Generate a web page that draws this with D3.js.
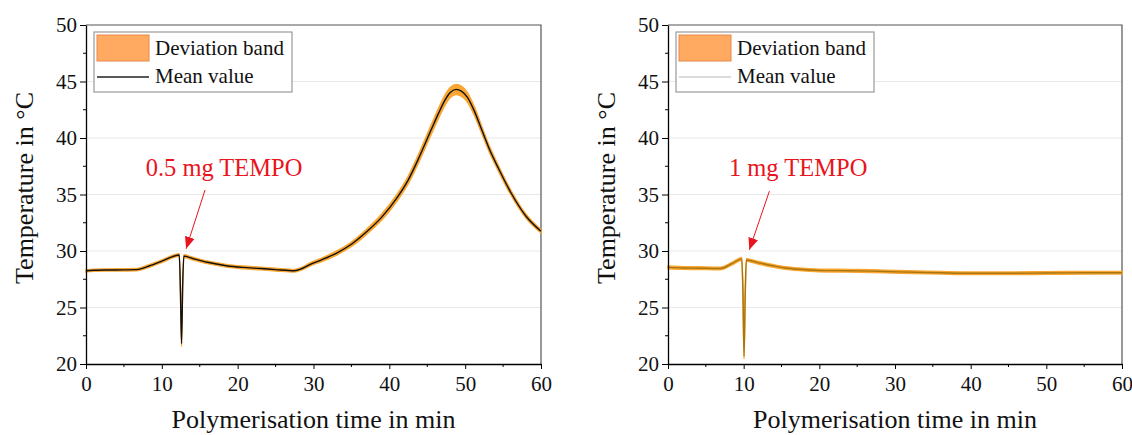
<!DOCTYPE html>
<html>
<head>
<meta charset="utf-8">
<script src="https://cdn.jsdelivr.net/npm/d3@7"></script>
<style>
  body { margin: 0; background: #fff; }
  svg text { font-family: "Liberation Serif", "Times New Roman", serif; }
</style>
</head>
<body>
<svg id="chart" width="1132" height="435"></svg>
<script>
// left panel: 0.5 mg TEMPO
const timeLeft = [0, 1, 3, 5, 6.7, 8, 10, 12.3, 12.45, 12.6, 12.75, 12.9, 14, 16, 18.5, 20.7, 23, 25, 27.5, 28.5, 29.5, 31, 33, 35, 37, 39, 41, 42.5, 44, 45.5, 46.5, 47.3, 48, 48.8, 49.5, 50.3, 51.2, 52.2, 53.2, 54.4, 56, 58, 60]
const meanLeft = [28.25, 28.3, 28.32, 28.33, 28.35, 28.6, 29.1, 29.65, 26.5, 21.8, 27.0, 29.55, 29.35, 29.0, 28.7, 28.55, 28.45, 28.35, 28.25, 28.45, 28.8, 29.2, 29.8, 30.6, 31.7, 33.0, 34.7, 36.3, 38.4, 40.7, 42.2, 43.3, 44.0, 44.3, 44.15, 43.6, 42.4, 40.7, 39.0, 37.3, 35.2, 33.1, 31.75]
const devLeft = [0.1, 0.1, 0.1, 0.1, 0.1, 0.12, 0.12, 0.12, 0.2, 0.25, 0.2, 0.12, 0.12, 0.12, 0.12, 0.12, 0.12, 0.12, 0.12, 0.12, 0.14, 0.15, 0.18, 0.2, 0.23, 0.27, 0.3, 0.34, 0.38, 0.42, 0.45, 0.45, 0.45, 0.45, 0.45, 0.42, 0.38, 0.32, 0.28, 0.25, 0.22, 0.18, 0.15]

// right panel: 1 mg TEMPO
const timeRight = [0, 2, 4, 6.9, 8.5, 9.75, 9.9, 10.05, 10.2, 10.35, 12, 13.8, 15.5, 17.3, 20, 24, 27, 30.5, 36, 39.4, 45, 50, 55, 60]
const meanRight = [28.55, 28.5, 28.48, 28.45, 28.9, 29.3, 26.5, 20.7, 26.0, 29.2, 28.95, 28.7, 28.5, 28.38, 28.28, 28.25, 28.22, 28.15, 28.08, 28.03, 28.03, 28.05, 28.07, 28.08]
const devRight = [0.12, 0.12, 0.12, 0.12, 0.12, 0.12, 0.2, 0.25, 0.2, 0.12, 0.12, 0.12, 0.12, 0.12, 0.12, 0.12, 0.12, 0.12, 0.12, 0.12, 0.12, 0.12, 0.12, 0.12]

const xTicks = [0, 10, 20, 30, 40, 50, 60]
const xMinor = [5, 15, 25, 35, 45, 55]
const yTicks = [20, 25, 30, 35, 40, 45, 50]
const yMinor = [22.5, 27.5, 32.5, 37.5, 42.5, 47.5]
const gridValues = [25, 30, 35, 40, 45]
const legendLabels = ["Deviation band", "Mean value"]
const xTitle = "Polymerisation time in min"
const yTitle = "Temperature in °C"

// annotation: label, text anchor [t, temp], arrow start, arrow end
const annotLeft = {label: "0.5 mg TEMPO", text: [18.2, 36.6], from: [15.7, 35.4], to: [13.2, 30.2]}
const annotRight = {label: "1 mg TEMPO", text: [17.2, 36.6], from: [13.4, 35.3], to: [10.75, 30.1]}

const svg = d3.select("#chart")

const defs = svg.append("defs")
defs.append("marker")
    .attr("id", "arrowHead")
    .attr("viewBox", "0 0 12 10")
    .attr("refX", 12).attr("refY", 5)
    .attr("markerWidth", 12).attr("markerHeight", 10)
    .attr("markerUnits", "userSpaceOnUse")
    .attr("orient", "auto")
    .append("path")
    .attr("d", "M0,0L12,5L0,10Z")
    .attr("fill", "#e8141e")

function drawPanel(opts) {
    const left = opts.left, right = opts.right, top = 25, bottom = 364
    const g = svg.append("g")

    let scale_x = d3.scaleLinear().domain([0, 60]).range([left, right])
    let scale_y = d3.scaleLinear().domain([20, 50]).range([bottom, top])

    // grid lines
    g.selectAll(".grid").data(gridValues).enter().append("line")
        .attr("x1", left).attr("x2", right)
        .attr("y1", d => scale_y(d)).attr("y2", d => scale_y(d))
        .attr("stroke", "#e9e9e9")
        .attr("stroke-width", 1.2)

    // frame (top, right)
    g.append("path")
        .attr("d", `M${left},${top}H${right}V${bottom}`)
        .attr("fill", "none")
        .attr("stroke", "#555")
        .attr("stroke-width", 1.2)

    const rows = opts.time.map((t, i) => ({t: t, m: opts.mean[i], d: opts.dev[i]}))

    let band = d3.area()
        .curve(d3.curveMonotoneX)
        .x(d => scale_x(d.t))
        .y0(d => scale_y(d.m - d.d))
        .y1(d => scale_y(d.m + d.d))
    g.append("path")
        .attr("d", band(rows))
        .attr("fill", "#f9a632")
        .attr("stroke", "#f9a632")
        .attr("stroke-width", 1.4)

    let linePath = d3.line()
        .curve(d3.curveMonotoneX)
        .x(d => scale_x(d.t))
        .y(d => scale_y(d.m))
    g.append("path")
        .attr("d", linePath(rows))
        .attr("fill", "none")
        .attr("stroke", opts.lineColor)
        .attr("stroke-width", 1.4)

    // axes
    let xAxis = d3.axisBottom(scale_x).tickValues(xTicks).tickSize(5).tickSizeOuter(0).tickPadding(4)
    let gx = g.append("g").attr("transform", `translate(0,${bottom})`).call(xAxis)
    gx.selectAll(".minor").data(xMinor).enter().append("line")
        .attr("class", "minor")
        .attr("x1", d => scale_x(d)).attr("x2", d => scale_x(d))
        .attr("y1", 0).attr("y2", 3)
        .attr("stroke", "#000")
    let yAxis = d3.axisLeft(scale_y).tickValues(yTicks).tickSize(6).tickSizeOuter(0).tickPadding(3)
    let gy = g.append("g").attr("transform", `translate(${left},0)`).call(yAxis)
    gy.selectAll(".minor").data(yMinor).enter().append("line")
        .attr("class", "minor")
        .attr("x1", 0).attr("x2", -3)
        .attr("y1", d => scale_y(d)).attr("y2", d => scale_y(d))
        .attr("stroke", "#000")
    g.selectAll(".domain").attr("stroke", "#000").attr("stroke-width", 1.3)
    g.selectAll(".tick line").attr("stroke", "#000")
    g.selectAll(".tick text")
        .attr("fill", "#111")
        .style("font-size", "21px")
        .style("font-family", '"Liberation Serif", serif')
    gx.selectAll(".tick text").attr("dy", "0.85em")

    // axis titles
    g.append("text")
        .attr("x", (left + right) / 2).attr("y", 428)
        .attr("text-anchor", "middle")
        .style("font-size", "26px")
        .attr("fill", "#111")
        .text(xTitle)
    g.append("text")
        .attr("transform", `translate(${left - 53},188) rotate(-90)`)
        .attr("text-anchor", "middle")
        .style("font-size", "26px")
        .attr("fill", "#111")
        .text(yTitle)

    // legend
    const lx = left + 8, ly = 32
    g.append("rect")
        .attr("x", lx).attr("y", ly)
        .attr("width", 198).attr("height", 60)
        .attr("fill", "#fff")
        .attr("stroke", "#9a9a9a")
        .attr("stroke-width", 1.2)
    g.append("rect")
        .attr("x", lx + 3).attr("y", ly + 3)
        .attr("width", 52).attr("height", 26)
        .attr("fill", "#ffaa60")
        .attr("stroke", "#e5894a")
    g.append("line")
        .attr("x1", lx + 3).attr("x2", lx + 55)
        .attr("y1", ly + 45).attr("y2", ly + 45)
        .attr("stroke", opts.legendLine)
        .attr("stroke-width", 1.3)
    g.selectAll(".legText").data(legendLabels).enter().append("text")
        .attr("x", lx + 61)
        .attr("y", (d, i) => ly + 23 + i * 28)
        .style("font-size", "21px")
        .attr("fill", "#111")
        .text(d => d)

    // annotation
    const a = opts.annot
    g.append("text")
        .attr("x", scale_x(a.text[0])).attr("y", scale_y(a.text[1]))
        .attr("text-anchor", "middle")
        .style("font-size", "24.5px")
        .attr("fill", "#e8141e")
        .text(a.label)
    g.append("line")
        .attr("x1", scale_x(a.from[0])).attr("y1", scale_y(a.from[1]))
        .attr("x2", scale_x(a.to[0])).attr("y2", scale_y(a.to[1]))
        .attr("stroke", "#e8141e")
        .attr("stroke-width", 1)
        .attr("marker-end", "url(#arrowHead)")
}

drawPanel({left: 86, right: 541, time: timeLeft, mean: meanLeft, dev: devLeft,
    lineColor: "#111", legendLine: "#222", annot: annotLeft})
drawPanel({left: 668, right: 1122, time: timeRight, mean: meanRight, dev: devRight,
    lineColor: "#a8750e", legendLine: "#cfcfcf", annot: annotRight})
</script>
</body>
</html>
